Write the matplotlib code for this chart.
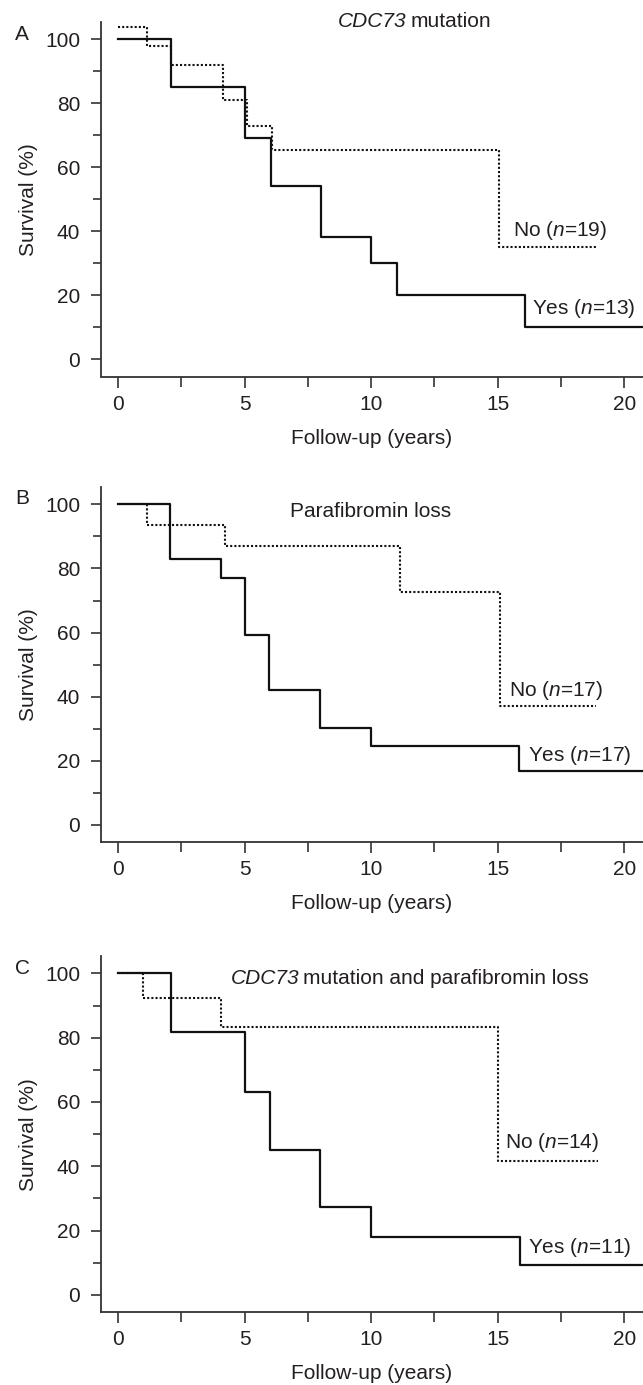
import matplotlib
matplotlib.use("Agg")
import matplotlib.pyplot as plt
from matplotlib.ticker import MultipleLocator

plt.rcParams['font.family'] = ['Liberation Sans', 'DejaVu Sans']
plt.rcParams['mathtext.fontset'] = 'custom'
plt.rcParams['mathtext.rm'] = 'Liberation Sans'
plt.rcParams['mathtext.it'] = 'Liberation Sans:italic'

TXT = '#231f20'

# Kaplan-Meier curves (time in years, survival in %)
a_yes_t = [0, 2.08, 5.0, 6.03, 8.0, 10.0, 11.03, 16.06, 21]
a_yes_s = [100, 85.0, 69.3, 54.2, 38.3, 30.0, 20.0, 10.0, 10.0]
a_no_t = [0, 1.13, 2.08, 4.14, 5.08, 6.06, 15.04, 18.9]
a_no_s = [103.9, 97.9, 91.9, 81.0, 72.9, 65.3, 35.0, 35.0]

b_yes_t = [0, 2.03, 4.05, 5.0, 5.96, 7.96, 10.0, 15.85, 21]
b_yes_s = [100, 83.0, 77.1, 59.4, 42.2, 30.4, 24.5, 16.7, 16.7]
b_no_t = [0, 1.12, 4.22, 11.12, 15.09, 18.88]
b_no_s = [100, 93.6, 87.1, 72.5, 37.1, 37.1]

c_yes_t = [0, 2.09, 5.0, 5.99, 7.98, 9.98, 15.89, 21]
c_yes_s = [100, 81.8, 63.2, 45.1, 27.5, 17.9, 9.3, 9.3]
c_no_t = [0, 0.99, 4.06, 15.0, 18.95]
c_no_s = [100, 92.3, 83.4, 41.8, 41.8]

# titles: (italic part, upright part)
titles = [('CDC73', 'mutation'), ('', 'Parafibromin loss'),
          ('CDC73', 'mutation and parafibromin loss')]
no_labels = ['No ($n$=19)', 'No ($n$=17)', 'No ($n$=14)']
yes_labels = ['Yes ($n$=13)', 'Yes ($n$=17)', 'Yes ($n$=11)']
letters = ['A', 'B', 'C']

W, H = 643, 1385
fig = plt.figure(figsize=(W / 100, H / 100), dpi=100)

# axes boxes in pixels: (top, bottom)
boxes = [(22, 376.5), (487, 842.3), (956, 1312.3)]
left_px = 101

# title split x (data), title y, No label pos, Yes label pos
panels = [
    (a_yes_t, a_yes_s, a_no_t, a_no_s, (11.4, 105.6), (15.6, 40.3), (16.35, 15.9)),
    (b_yes_t, b_yes_s, b_no_t, b_no_s, (6.8, 97.9), (15.45, 42.0), (16.2, 21.7)),
    (c_yes_t, c_yes_s, c_no_t, c_no_s, (7.15, 98.5), (15.3, 47.5), (16.2, 14.8)),
]
letter_y = [35, 498, 968]

for i, (yt, ys, nt, ns, tpos, npos, ypos) in enumerate(panels):
    top, bot = boxes[i]
    ax = fig.add_axes([left_px / W, 1 - bot / H, (W - left_px) / W, (bot - top) / H])
    ax.step(yt, ys, where='post', color='#111111', lw=1.6, clip_on=True)
    ax.step(nt, ns, where='post', color='#111111', lw=1.5, linestyle=(0, (1, 1)))
    ax.set_xlim(-0.68, 20.74)
    ax.set_ylim(-5.4, 105.4)

    for s in ['top', 'right']:
        ax.spines[s].set_visible(False)
    for s in ['left', 'bottom']:
        ax.spines[s].set_color('#333333')
        ax.spines[s].set_linewidth(1.3)

    ax.xaxis.set_major_locator(MultipleLocator(5))
    ax.xaxis.set_minor_locator(MultipleLocator(2.5))
    ax.yaxis.set_major_locator(MultipleLocator(20))
    ax.yaxis.set_minor_locator(MultipleLocator(10))
    ax.tick_params(axis='both', which='both', colors='#333333', width=1.2,
                   labelcolor=TXT, labelsize=15)
    ax.tick_params(axis='x', which='major', length=8, pad=5)
    ax.tick_params(axis='x', which='minor', length=7)
    ax.tick_params(axis='y', which='major', length=7, pad=8)
    ax.tick_params(axis='y', which='minor', length=6)

    ax.set_ylabel('Survival (%)', fontsize=15, color=TXT)
    ax.yaxis.set_label_coords(-(left_px - 28) / (W - left_px), 0.5)
    ax.yaxis.label.set_va('center')
    ax.set_xlabel('Follow-up (years)', fontsize=15, color=TXT)
    ax.xaxis.set_label_coords(0.5, -61.5 / (bot - top))
    ax.xaxis.label.set_va('center')

    it_part, up_part = titles[i]
    if it_part:
        ax.text(tpos[0], tpos[1], it_part, fontsize=15, color=TXT, style='italic',
                ha='right', va='center', clip_on=False)
        ax.text(tpos[0] + 0.15, tpos[1], up_part, fontsize=15, color=TXT,
                ha='left', va='center', clip_on=False)
    else:
        ax.text(tpos[0], tpos[1], up_part, fontsize=15, color=TXT,
                ha='left', va='center', clip_on=False)
    ax.text(npos[0], npos[1], no_labels[i], fontsize=15, color=TXT,
            ha='left', va='center')
    ax.text(ypos[0], ypos[1], yes_labels[i], fontsize=15, color=TXT,
            ha='left', va='center')

    fig.text(22 / W, 1 - letter_y[i] / H, letters[i], fontsize=15, color=TXT,
             ha='center', va='center')

fig.savefig('out.png', dpi=100, facecolor='white')
